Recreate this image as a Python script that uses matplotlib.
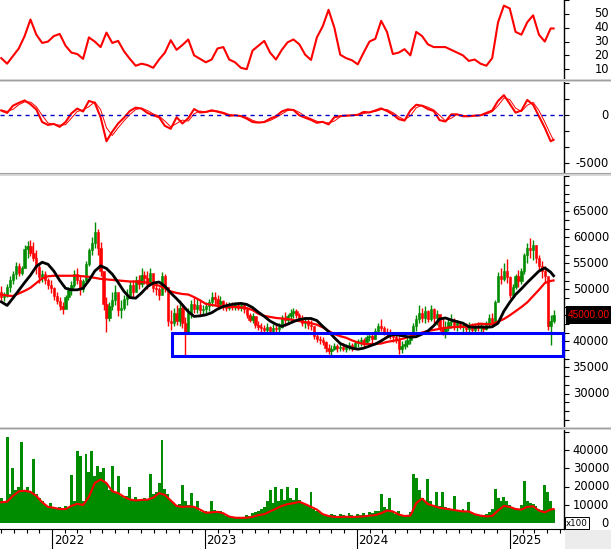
import numpy as np
import matplotlib
matplotlib.use("Agg")
import matplotlib.pyplot as plt
import matplotlib.dates as mdates
from matplotlib.ticker import MultipleLocator, FixedLocator
from matplotlib.patches import Rectangle
from matplotlib.lines import Line2D
from matplotlib.transforms import blended_transform_factory

plt.rcParams['font.family'] = ['DejaVu Sans']

# weekly candles, first week 2021-09-01
first_week = '2021-09-01'
open0 = 49500
close = [48500, 48800, 50500, 51800, 52900, 54500, 53200, 54000, 57800, 58300,
         57000, 56000, 54200, 52300, 53000, 51800, 50800, 50200, 48800, 47800,
         46800, 46200, 48500, 49800, 50800, 53000, 51800, 50000, 51500, 54800,
         57500, 58800, 61000, 58000, 53500, 47200, 44500, 46800, 48000, 49500,
         46000, 46500, 48200, 48800, 50800, 49500, 51800, 51000, 52800, 52200,
         51000, 53200, 50200, 50000, 49000, 52500, 50500, 44000, 43500, 45500,
         44000, 46500, 43500, 41500, 45500, 47200, 46300, 47000, 46000, 46200,
         46800, 47500, 48500, 48200, 47200, 47800, 46800, 46500, 47000, 46800,
         47200, 46500, 47000, 46300, 45000, 44200, 44800, 43200, 42800, 42500,
         42200, 42800, 42000, 42600, 42300, 42800, 44500, 44200, 44800, 45500,
         45800, 45000, 44500, 43500, 44000, 43200, 43000, 41000, 40500, 40200,
         39800, 38800, 38200, 38500, 39200, 38700, 39000, 38600, 38900, 39300,
         38800, 39600, 40000, 40300, 39800, 40800, 41000, 40500, 42000, 43000,
         42500, 41800, 41500, 41200, 40800, 40200, 38500, 39200, 39500, 40200,
         41000, 43000, 44300, 45500, 44500, 45800, 44300, 46200, 44500, 45200,
         42800, 41800, 42500, 43800, 44000, 43200, 43600, 42800, 43200, 42400,
         43000, 42200, 42900, 42500, 42800, 42300, 43500, 44500, 43800, 47500,
         52500, 52000, 53500, 52300, 49000, 50500, 52500, 51500, 53500, 56500,
         58000, 57500, 58500, 56000, 54500, 53500, 52500, 43000, 44000, 45000]
high = [50600, 49500, 51000, 52500, 53500, 55200, 55000, 54500, 58500, 59300,
        59500, 59000, 57500, 55000, 53800, 53500, 52200, 51800, 50500, 49500,
        48500, 47500, 49000, 50500, 51500, 53800, 54000, 52500, 52000, 55500,
        58000, 60000, 63000, 61500, 59000, 53000, 48500, 47500, 49500, 50800,
        49000, 48000, 49000, 50000, 51500, 51800, 52500, 52800, 54000, 53500,
        53500, 54000, 53000, 51500, 50500, 53300, 53000, 48500, 46000, 46500,
        47000, 48000, 47000, 44700, 46500, 48000, 48500, 48300, 47800, 47000,
        47500, 48200, 49500, 49500, 49000, 48800, 48000, 47500, 47600, 47600,
        47500, 47500, 47300, 47000, 46500, 45500, 45500, 44700, 44000, 43500,
        43200, 43500, 43000, 43300, 43200, 43500, 45000, 45600, 45300, 46200,
        46400, 46300, 45500, 45000, 44700, 44500, 44200, 43000, 41500, 41000,
        40800, 40000, 39500, 39300, 39700, 39500, 39700, 39600, 39500, 39800,
        39600, 40000, 40500, 40800, 40700, 41200, 41600, 41500, 42500, 43500,
        44300, 43000, 42500, 42300, 41600, 41500, 41000, 40000, 40300, 40800,
        41500, 43500, 45000, 47000, 46500, 46800, 46000, 47000, 46500, 46000,
        45000, 44500, 44000, 44500, 45200, 44500, 44200, 44000, 43800, 43500,
        43700, 43600, 43500, 43700, 43500, 43200, 44000, 45200, 45500, 48000,
        53300, 54000, 55000, 55800, 52500, 51000, 53000, 53700, 54000, 57000,
        58900, 59800, 59500, 58500, 56500, 55500, 54500, 52000, 45000, 46100]
low = [48000, 47800, 48500, 49500, 51000, 52000, 52500, 52800, 54000, 56000,
       56300, 55500, 53000, 51200, 51400, 51000, 50000, 49300, 48000, 47200,
       46000, 45300, 46500, 48000, 49000, 50500, 51000, 49000, 49500, 51500,
       54500, 56500, 58000, 56500, 52500, 46000, 41800, 44000, 46000, 47000,
       44800, 44500, 46000, 47000, 48500, 48500, 49500, 50000, 50500, 51000,
       50000, 51000, 49500, 49000, 48000, 50000, 49500, 43000, 42200, 43000,
       43200, 43000, 42500, 37000, 42500, 44500, 45500, 45500, 45000, 45200,
       45500, 45800, 46800, 47000, 46500, 46400, 46000, 45800, 46000, 46000,
       46000, 46000, 45800, 45500, 44500, 43700, 43500, 42500, 42200, 41800,
       41600, 41800, 41600, 41700, 41700, 41900, 42500, 43000, 43500, 44000,
       44500, 44500, 44000, 43000, 42500, 42300, 42200, 40500, 39800, 39500,
       39300, 38000, 37500, 37000, 38300, 38000, 38200, 38100, 38000, 38300,
       38200, 38500, 39000, 39200, 39000, 39500, 40000, 39700, 40500, 41500,
       42000, 41200, 40800, 40500, 39800, 39700, 37500, 37800, 38600, 39000,
       39500, 40900, 42000, 43500, 43800, 43500, 43800, 44000, 43600, 43200,
       42000, 41200, 40700, 42000, 42500, 42200, 42000, 42300, 41900, 41800,
       41900, 41800, 41900, 42000, 41800, 41900, 42200, 42800, 43000, 43500,
       48000, 51000, 51500, 51300, 48300, 48500, 50000, 50500, 51000, 53000,
       55000, 56000, 55600, 55000, 53500, 52200, 51400, 42200, 39300, 43500]
volume = [14000, 12000, 47000, 16000, 30000, 18000, 20000, 44500, 18000, 20000,
          17000, 35000, 16000, 14000, 12000, 10000, 9500, 11000, 9000, 8500,
          9000, 8000, 9500, 8500, 26500, 12000, 39700, 37000, 12000, 38000,
          28000, 39600, 26000, 31500, 28000, 30000, 22000, 18000, 31400, 17000,
          26000, 15000, 14000, 15000, 20000, 13000, 14500, 12500, 13000, 14000,
          13500, 26900, 16000, 17000, 22000, 45400, 19000, 16000, 13000, 11000,
          10000, 10500, 21000, 12000, 10000, 16500, 9000, 12000, 7000, 6000,
          6500, 5500, 12000, 7500, 6500, 7000, 5000, 4000, 3500, 3000,
          3200, 3500, 3000, 3200, 4500, 4000, 5500, 6000, 7000, 8000,
          9000, 12000, 18000, 11000, 20000, 12000, 19000, 13000, 20000, 14000,
          12500, 19500, 13000, 11000, 10500, 9500, 17000, 8000, 7000, 6000,
          5000, 4500, 4000, 5000, 4500, 4000, 5000, 4500, 4000, 5500,
          4500, 4000, 5000, 4500, 5500, 4800, 6000, 5500, 7000, 6500,
          16000, 9000, 8000, 13700, 7000, 5000, 6500, 4500, 4000, 4500,
          6000, 27000, 25000, 18000, 14000, 12000, 24000, 12000, 10000, 17000,
          9500, 17000, 9000, 8500, 8000, 15000, 7500, 7000, 8000, 6500,
          11500, 6000, 5000, 4500, 4000, 4500, 5000, 6000, 8000, 19000,
          14000, 12000, 14500, 12000, 10000, 9000, 8500, 8000, 10000, 23000,
          12000, 11000, 10500, 9500, 8000, 7500, 21000, 17000, 12000, 8000]

# indicator lines, one point every second week plus the last week
ma_fast = [47600, 46900, 48300, 49800, 51300, 52700, 54400, 55200, 54800, 53500,
           51700, 50200, 49900, 49900, 50200, 51700, 53500, 54500, 54000, 52900,
           51300, 49600, 48400, 48300, 49300, 50500, 51200, 51400, 50600, 49300,
           48200, 47000, 45700, 44800, 44900, 45100, 45500, 46200, 46700, 47000,
           47200, 47300, 47100, 46500, 45600, 44800, 43900, 43300, 42900, 43300,
           43800, 44200, 44400, 44400, 44000, 42900, 41900, 40700, 39600, 39100,
           38700, 38500, 38700, 39100, 39500, 40100, 40800, 41300, 41200, 41000,
           40800, 40900, 41400, 42000, 43000, 44300, 44500, 44100, 43800, 43500,
           42800, 42700, 42800, 42700, 42800, 43500, 45800, 47500, 49000, 50100,
           51300, 52400, 53500, 54100, 53300, 52600]
ma_slow = [49000, 48800, 48700, 49200, 49700, 50300, 51200, 52100, 52500, 52600,
           52600, 52600, 52600, 52600, 52500, 52400, 52200, 52000, 51900, 51800,
           51700, 51600, 51500, 51500, 51400, 51300, 51000, 50700, 50200, 49600,
           49300, 49100, 49000, 48500, 47900, 47200, 47000, 46800, 46700, 46600,
           46600, 46500, 46400, 46000, 45300, 44900, 44700, 44500, 44400, 44300,
           44100, 43900, 43700, 43500, 43200, 42700, 42000, 41400, 41000, 40700,
           40200, 39800, 39500, 39500, 39500, 39600, 39900, 40100, 40300, 40600,
           41000, 41400, 41700, 42000, 42200, 42400, 42600, 42700, 42800, 42800,
           43000, 43200, 43400, 43300, 43300, 43800, 44300, 45000, 45800, 46600,
           47500, 48700, 49900, 51200, 51600, 51700]
vol_ma = [11500, 11800, 15000, 17500, 17800, 17200, 15000, 11500, 9000, 8500,
          7800, 7800, 9500, 10700, 10000, 14500, 22000, 24000, 22000, 17500,
          16500, 14500, 13000, 12500, 12800, 12900, 14000, 16500, 15500, 12500,
          9500, 9000, 9200, 9000, 7500, 5800, 6000, 6300, 5500, 3700,
          3100, 3000, 3100, 3500, 4500, 5000, 6500, 8000, 9500, 10500,
          11000, 11800, 10500, 9000, 7500, 5000, 4000, 3500, 3500, 3600,
          3500, 3600, 3800, 4200, 4500, 5500, 7000, 6500, 4800, 4000,
          4200, 11000, 13500, 10500, 9500, 8500, 8000, 7500, 7000, 6500,
          6500, 5000, 4200, 3800, 4000, 7000, 9500, 9000, 7800, 7500,
          9000, 9300, 7000, 6000, 7500, 7800]
adx = [18, 14, 19.5, 25, 34, 46, 35, 29, 30, 34,
       35.5, 27, 22, 21, 17.5, 33, 30, 26, 36.5, 29,
       30.5, 23, 17.5, 12.5, 14, 13, 11, 17, 22, 31,
       24, 27.5, 31.5, 20, 17.5, 15, 17, 25, 26, 17,
       15, 11, 10, 23.5, 27, 30.5, 22, 17, 24, 29.5,
       31.5, 28, 20.5, 16.7, 33, 41, 53, 40, 20.5, 18,
       16.5, 13.5, 22, 30, 32, 45, 37, 21, 22, 24.5,
       20, 37, 34, 28, 26, 26, 26, 24, 22, 20,
       16, 17, 14, 12.5, 18, 44, 56, 54, 37, 35,
       44, 49, 35, 30, 39.5, 39.5]
macd = [500, 250, 1000, 1300, 1550, 1150, 600, -700, -1000, -900,
        -1200, -700, 200, 700, 400, 1500, 1300, -200, -2700, -1700,
        -850, -250, 450, 800, 700, 250, 0, -200, -1100, -1400,
        -200, -850, -300, 650, 300, 350, 520, 380, 220, -50,
        0, -80, -350, -700, -760, -700, -350, -100, 400, 620,
        550, 0, -250, -480, -780, -680, -950, -200, -80, -30,
        0, 50, 350, 300, 500, 720, 450, 100, -400, -550,
        500, 1100, 1000, 650, 450, -500, -650, 100, 100, -100,
        -100, -30, 0, 250, 500, 1500, 2100, 1200, 280, 500,
        1600, 1100, -100, -1300, -2700, -2550]
macd_signal = [550, 400, 620, 1100, 1400, 1380, 900, 0, -800, -950,
               -1030, -980, -300, 400, 560, 900, 1400, 600, -1300, -2100,
               -1300, -580, 80, 600, 750, 500, 150, -80, -600, -1200,
               -850, -500, -600, 150, 450, 330, 430, 450, 310, 100,
               -20, -40, -200, -520, -720, -740, -540, -240, 130, 500,
               600, 300, -100, -350, -620, -740, -800, -600, -150, -60,
               -20, 20, 180, 320, 400, 600, 600, 290, -150, -470,
               -50, 780, 1050, 850, 560, 0, -570, -300, 100, 0,
               -100, -70, -20, 120, 380, 1000, 1800, 1650, 750, 400,
               1050, 1350, 500, -700, -2000, -2600]

# support zone
box_start, box_end = '2022-10-14', '2025-05-08'
box_low, box_high = 37200, 41700
last_price = '45000.00'

GREEN = '#008c00'
RED = '#ff0000'

dates = np.datetime64(first_week) + np.arange(len(close)) * np.timedelta64(7, 'D')
ma_dates = dates[np.r_[0:len(close):2, len(close) - 1]]
opens = np.array([open0] + close[:-1])
close_a = np.array(close)
cols = [GREEN if c >= o else RED for o, c in zip(opens, close_a)]

W, H = 611, 549
fig = plt.figure(figsize=(W / 100, H / 100), dpi=100)


def box(x0, y0, x1, y1):
    return [x0 / W, 1 - y1 / H, (x1 - x0) / W, (y1 - y0) / H]


ax_adx = fig.add_axes(box(0, 0, 564, 79))
ax_macd = fig.add_axes(box(0, 82, 564, 173), sharex=ax_adx)
ax_px = fig.add_axes(box(0, 176, 564, 427), sharex=ax_adx)
ax_vol = fig.add_axes(box(0, 430, 564, 529), sharex=ax_adx)
axes = [ax_adx, ax_macd, ax_px, ax_vol]

# top indicator
ax_adx.plot(ma_dates, adx, color=RED, lw=1.5)
ax_adx.set_ylim(2.9, 60.1)

# macd
ax_macd.plot(ma_dates, macd_signal, color=RED, lw=0.7)
ax_macd.plot(ma_dates, macd, color=RED, lw=1.5)
ax_macd.axhline(0, color='#0000cc', lw=1, dashes=(3, 3))
ax_macd.set_ylim(-6010, 3470)

# price candles
ax_px.vlines(dates, low, high, colors=cols, lw=1.0)
ax_px.bar(dates, close_a - opens, bottom=opens, width=5.5, color=cols,
          edgecolor=cols, linewidth=0.4)
ax_px.plot(ma_dates, ma_slow, color=RED, lw=1.6)
ax_px.plot(ma_dates, ma_fast, color='black', lw=2.0)
b0 = mdates.date2num(np.datetime64(box_start))
b1 = mdates.date2num(np.datetime64(box_end))
ax_px.add_patch(Rectangle((b0, box_low), b1 - b0, box_high - box_low, fill=False,
                          edgecolor='#0000ff', lw=2.2, clip_on=False, zorder=5))
ax_px.set_ylim(23570, 71750)

# volume
ax_vol.bar(dates, volume, width=7, color=GREEN, linewidth=0)
ax_vol.plot(ma_dates, vol_ma, color=RED, lw=1.5)
ax_vol.set_ylim(-3100, 51000)

ax_adx.set_xlim(np.datetime64('2021-08-29'), np.datetime64('2025-05-11'))

ticks = {
    ax_adx: ([10, 20, 30, 40, 50, 60], None, ['10', '20', '30', '40', '50']),
    ax_macd: ([-5000, 0], 5000 / 3, ['-5000', '0']),
    ax_px: ([30000, 35000, 40000, 45000, 50000, 55000, 60000, 65000, 70000], 5000 / 3,
            ['30000', '35000', '40000', None, '50000', '55000', '60000', '65000']),
    ax_vol: ([0, 10000, 20000, 30000, 40000, 50000], None,
             ['0', '10000', '20000', '30000', '40000']),
}
for ax in axes:
    for s in ['left', 'top', 'bottom']:
        ax.spines[s].set_visible(False)
    ax.spines['right'].set_color('black')
    ax.spines['right'].set_linewidth(1)
    ax.patch.set_alpha(0)
    major, minor, labels = ticks[ax]
    ax.yaxis.set_major_locator(FixedLocator(major))
    if minor:
        ax.yaxis.set_minor_locator(MultipleLocator(minor))
    ax.tick_params(axis='y', which='both', left=False, right=True, labelleft=False,
                   labelright=False, direction='out', length=3.5, width=0.8)
    tr = blended_transform_factory(fig.transFigure, ax.transData)
    for v, lab in zip(major, labels):
        if lab:
            fig.text(609 / W, v, lab, transform=tr, ha='right', va='center',
                     fontsize=8.3, color='black')
    if ax is not ax_vol:
        ax.tick_params(axis='x', which='both', bottom=False, labelbottom=False)

ax_vol.spines['bottom'].set_visible(True)
ax_vol.spines['bottom'].set_color('black')
ax_vol.xaxis.set_major_locator(mdates.YearLocator())
ax_vol.xaxis.set_minor_locator(mdates.MonthLocator())
ax_vol.tick_params(axis='x', which='major', length=14.4, width=0.8, direction='out',
                   labelbottom=False)
ax_vol.tick_params(axis='x', which='minor', length=3, width=0.8, direction='out')
trx = blended_transform_factory(ax_vol.transData, fig.transFigure)
for yr in ['2022', '2023', '2024', '2025']:
    d = mdates.date2num(np.datetime64(yr + '-01-01')) + 4
    fig.text(d, 1 - 540 / H, yr, transform=trx, ha='left', va='center', fontsize=8.6)

# panel separators
for y0 in [79, 173, 427]:
    fig.add_artist(Rectangle((0, 1 - (y0 + 3) / H), 1, 3 / H, transform=fig.transFigure,
                             facecolor='#d8d8d8', edgecolor='none'))
    fig.add_artist(Line2D([0, 1], [1 - (y0 + 0.5) / H] * 2, transform=fig.transFigure,
                          color='#a0a0a0', lw=0.8))

# bottom right corner and labels
fig.add_artist(Rectangle((565 / W, 0), 46 / W, 19 / H, transform=fig.transFigure,
                         facecolor='#ececec', edgecolor='none'))
fig.add_artist(Rectangle((565 / W, 1 - 529 / H), 24 / W, 12 / H, transform=fig.transFigure,
                         facecolor='white', edgecolor='black', lw=0.7))
fig.text(577 / W, 1 - 523 / H, 'x100', ha='center', va='center', fontsize=6.3)
fig.add_artist(Rectangle((566 / W, 1 - 324 / H), 45 / W, 18 / H, transform=fig.transFigure,
                         facecolor='black', edgecolor='none'))
fig.text(567.5 / W, 1 - 315.5 / H, last_price, ha='left', va='center', fontsize=7.2,
         color=RED, family=['Liberation Sans', 'DejaVu Sans'])

fig.savefig('out.png', dpi=100)
